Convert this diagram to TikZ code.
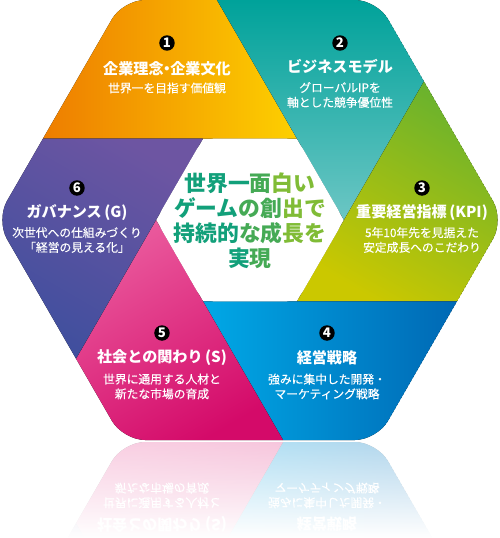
\documentclass[tikz,border=0pt]{standalone}
\usepackage{fontspec}
\setmainfont{Noto Sans CJK JP}
\newfontfamily\jpmed[FakeBold=0.35]{Noto Sans CJK JP}
\usetikzlibrary{fadings}

% segment colours
\definecolor{cOrange}{HTML}{EE7D00}
\definecolor{cYellow}{HTML}{FDD000}
\definecolor{cTealD}{HTML}{00A29A}
\definecolor{cTealL}{HTML}{6CC6C4}
\definecolor{cGreen}{HTML}{68B22E}
\definecolor{cOlive}{HTML}{CBC800}
\definecolor{cBlueL}{HTML}{00A8E6}
\definecolor{cBlueD}{HTML}{0068B4}
\definecolor{cPinkL}{HTML}{EA5A9D}
\definecolor{cPinkD}{HTML}{D40A69}
\definecolor{cPurpT}{HTML}{6D55A2}
\definecolor{cPurpB}{HTML}{3F4F9E}
% centre text
\definecolor{cTxtA}{HTML}{12A07A}
\definecolor{cTxtM}{HTML}{45AA55}
\definecolor{cTxtB}{HTML}{80BC36}

\tikzfading[name=reflfade, top color=transparent!30, bottom color=transparent!0]

% the six pinwheel segments and the white hub
\newcommand{\hexregions}{%
  % outer hexagon
  \coordinate (O0) at (254,0);    \coordinate (O1) at (127,220);
  \coordinate (O2) at (-127,220); \coordinate (O3) at (-254,0);
  \coordinate (O4) at (-127,-220);\coordinate (O5) at (127,-220);
  % inner hexagon
  \coordinate (I0) at (94,0);     \coordinate (I1) at (47,81.4);
  \coordinate (I2) at (-47,81.4); \coordinate (I3) at (-94,0);
  \coordinate (I4) at (-47,-81.4);\coordinate (I5) at (47,-81.4);
  % where the inner edges meet the outer hexagon
  \coordinate (P1) at (-207,81.4); \coordinate (P2) at (-33,220);
  \coordinate (P3) at (174,138.6); \coordinate (P4) at (207,-81.4);
  \coordinate (P5) at (33,-220);   \coordinate (P6) at (-174,-138.6);
  \begin{scope}
    \clip[rounded corners=0.44cm] (O0) -- (O1) -- (O2) -- (O3) -- (O4) -- (O5) -- cycle;
    \fill[left color=cOrange, right color=cYellow] (P1) -- (O2) -- (P2) -- (I1) -- (I2) -- cycle;
    \fill[top color=cTealD, bottom color=cTealL] (P2) -- (O1) -- (P3) -- (I0) -- (I1) -- cycle;
    \fill[top color=cGreen, bottom color=cOlive, shading angle=-30] (P3) -- (O0) -- (P4) -- (I5) -- (I0) -- cycle;
    \fill[left color=cBlueL, right color=cBlueD] (P4) -- (O5) -- (P5) -- (I4) -- (I5) -- cycle;
    \fill[top color=cPinkL, bottom color=cPinkD, shading angle=30] (P5) -- (O4) -- (P6) -- (I3) -- (I4) -- cycle;
    \fill[top color=cPurpT, bottom color=cPurpB, shading angle=-30] (P6) -- (O3) -- (P1) -- (I2) -- (I3) -- cycle;
  \end{scope}
  \fill[white, rounded corners=0.24cm] (I0) -- (I1) -- (I2) -- (I3) -- (I4) -- (I5) -- cycle;
}
\newcommand{\ndot}{\hspace{-0.28em}・\hspace{-0.28em}}

\begin{document}
\begin{tikzpicture}[x=0.02cm, y=0.02cm,
  badge/.style={circle, fill=black, text=white, inner sep=0pt, minimum size=0.31cm,
    font=\bfseries\fontsize{7.5}{8}\selectfont},
  segtitle/.style={text=white, inner sep=0pt, font=\bfseries\fontsize{8.6}{10}\selectfont},
  segsub/.style={text=white, align=center, inner sep=0pt, font=\jpmed\fontsize{6.7}{8.4}\selectfont},
  hub/.style={align=center, inner sep=0pt, font=\bfseries\fontsize{12.4}{14.2}\selectfont}]

\useasboundingbox (-250,-318) rectangle (250,220);

% ---------- hexagon ----------
\hexregions

% ---------- segment texts ----------
\node[badge] (b1) at (-83,177) {1};
\node[segtitle] (t1) at (-83,151) {企業理念\ndot 企業文化};
\node[segsub] (s1) at (-83,132) {世界一を目指す価値観};

\node[badge] (b2) at (90,177) {2};
\node[segtitle] (t2) at (90,153) {ビジネスモデル};
\node[segsub] (s2) at (90,125) {グローバルIPを\\軸とした競争優位性};

\node[badge] (b3) at (172,32) {3};
\node[segtitle] (t3) at (172,7) {重要経営指標\,(KPI)};
\node[segsub] (s3) at (172,-20) {5年10年先を見据えた\\安定成長へのこだわり};

\node[badge] (b4) at (77,-113) {4};
\node[segtitle] (t4) at (77,-138) {経営戦略};
\node[segsub] (s4) at (77,-166.5) {強みに集中した開発・\\マーケティング戦略};

\node[badge] (b5) at (-88,-113) {5};
\node[segtitle] (t5) at (-88,-138) {社会との関わり\,(S)};
\node[segsub] (s5) at (-88,-166.5) {世界に通用する人材と\\新たな市場の育成};

\node[badge] (b6) at (-173,32) {6};
\node[segtitle] (t6) at (-173,7) {ガバナンス\,(G)};
\node[segsub] (s6) at (-173,-20) {次世代への仕組みづくり\\「経営の見える化」};

% ---------- hub ----------
\node[hub] (hubtext) at (0,-0.5) {%
  \textcolor{cTxtA}{世界一}\textcolor{cTxtM}{面}\textcolor{cTxtB}{白い}\\
  \textcolor{cTxtA}{ゲーム}\textcolor{cTxtM}{の創}\textcolor{cTxtB}{出で}\\
  \textcolor{cTxtA}{持続的}\textcolor{cTxtM}{な成}\textcolor{cTxtB}{長を}\\
  \textcolor{cTxtA}{実}\textcolor{cTxtM}{現}};

% ---------- reflection ----------
\begin{scope}
  \clip (-250,-222) rectangle (250,-318);
  \begin{scope}[shift={(0,-442)}, yscale=-1]
    \hexregions
    \node[segtitle, transform shape] (rt4) at (77,-138) {経営戦略};
    \node[segsub, transform shape] (rs4) at (77,-166.5) {強みに集中した開発・\\マーケティング戦略};
    \node[segtitle, transform shape] (rt5) at (-88,-138) {社会との関わり\,(S)};
    \node[segsub, transform shape] (rs5) at (-88,-166.5) {世界に通用する人材と\\新たな市場の育成};
  \end{scope}
  \fill[white, path fading=reflfade, fit fading=true] (-250,-222) rectangle (250,-318);
\end{scope}

\end{tikzpicture}
\end{document}
